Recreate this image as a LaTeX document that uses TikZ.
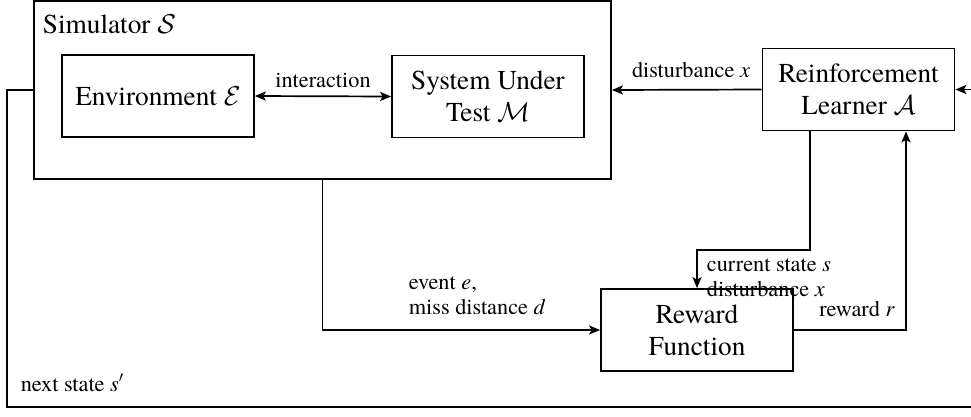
\documentclass[tikz,border=0pt]{standalone}
\usepackage{fix-cm}
\usepackage{fontspec}
\setmainfont{texgyretermes}[Extension=.otf, UprightFont=*-regular,
  ItalicFont=*-italic, BoldFont=*-bold, BoldItalicFont=*-bolditalic]
\usetikzlibrary{arrows.meta}

\newcommand\boxfont{\fontsize{27.3}{32}\selectfont}
\newcommand\labelfont{\fontsize{22.3}{25}\selectfont}

\begin{document}
\begin{tikzpicture}[x=1pt,y=-1pt,
  every path/.style={line width=1.7pt},
  block/.style={draw, line width=1.7pt, minimum width=192pt, minimum height=82pt,
                align=center, inner sep=0pt, font=\boxfont},
  flow/.style={-{Stealth[length=11pt,width=9pt,inset=2.5pt]}},
  twoway/.style={{Stealth[length=11pt,width=9pt,inset=2.5pt]}-{Stealth[length=11pt,width=9pt,inset=2.5pt]}},
  lbl/.style={font=\labelfont, inner sep=0pt, align=left}]
\useasboundingbox (0,0) rectangle (971,416);

% simulator frame with its two components
\node[draw, line width=1.7pt, minimum width=577pt, minimum height=178pt, inner sep=0pt] (sim) at (322.5,90) {};
\node[font=\boxfont, anchor=base west, inner sep=0pt] (simtitle) at (42,33) {Simulator $\mathcal{S}$};
\node[block] (env) at (158,96) {Environment $\mathcal{E}$};
\node[block] (sut) at (488,96.5) {System Under\\Test $\mathcal{M}$};

% learner and reward
\node[block] (rl) at (858.5,89.5) {Reinforcement\\Learner $\mathcal{A}$};
\node[block] (rew) at (697,330) {Reward\\Function};

% helper points for the routed connectors
\coordinate (fbL) at (7,407);
\coordinate (fbR) at (973,89.5);
\coordinate (rlOut) at ([xshift=-48.5pt]rl.south);
\coordinate (rlIn) at ([xshift=47.5pt]rl.south);
\coordinate (bend) at (810,250);

% connectors
\draw[twoway] (env.east) -- (sut.west);
\draw[flow] (rl.west) -- (sim.east);
\draw[flow] (sim.west) -| (fbL) -| (fbR) -- (rl.east);
\draw[flow] (sim.south) |- (rew.west);
\draw[flow] (rlOut) -- (bend) -| (rew.north);
\draw[flow] (rew.east) -| (rlIn);

% connector labels
\node[lbl, anchor=base] (tInter) at (323,87) {interaction};
\node[lbl, anchor=base] (tDist) at (691,77) {disturbance \textit{x}};
\node[lbl, anchor=north west] (tState) at (706,258) {current state \textit{s}\\disturbance \textit{x}};
\node[lbl, anchor=north west] (tEvent) at (408,276) {event \textit{e},\\miss distance \textit{d}};
\node[lbl, anchor=base] (tRew) at (857,316) {reward \textit{r}};
\node[lbl, anchor=base west] (tNext) at (20,391) {next state \textit{s}$'$};
\end{tikzpicture}
\end{document}
